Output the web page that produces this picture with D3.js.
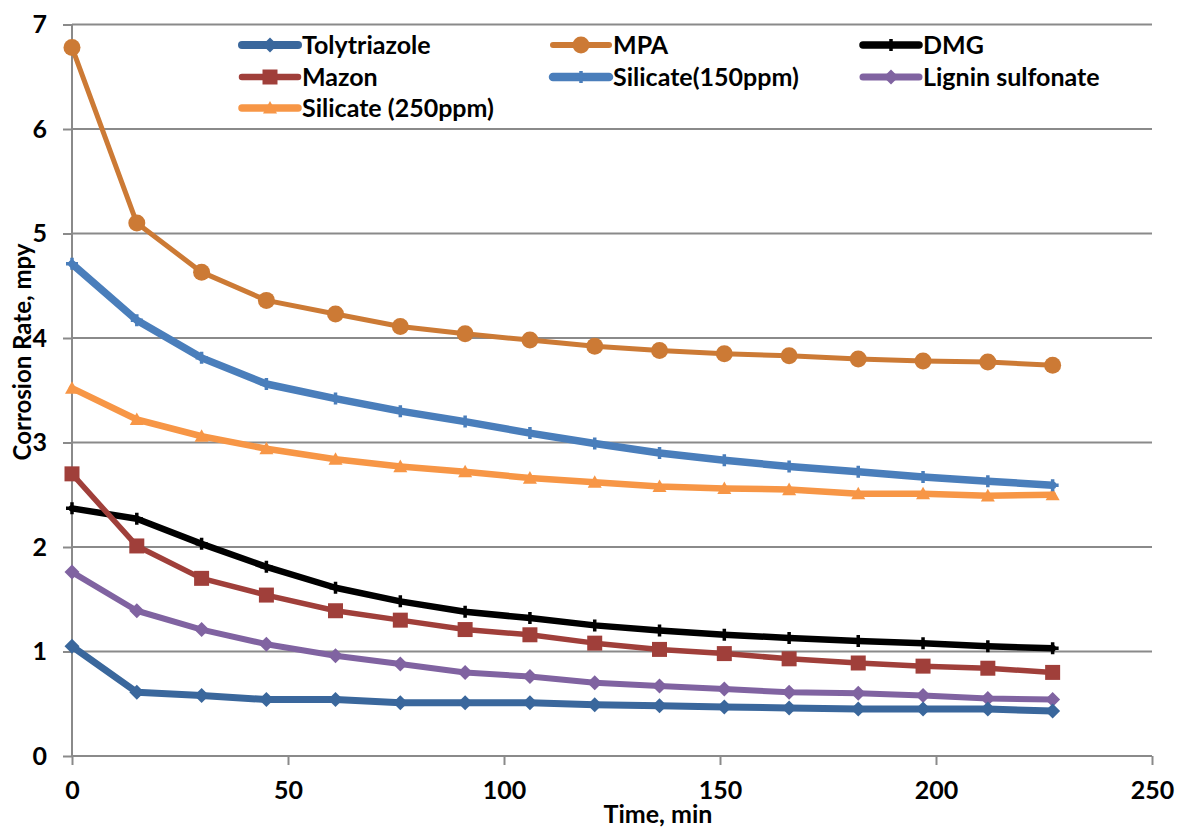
<!DOCTYPE html>
<html><head><meta charset="utf-8">
<script src="https://cdn.jsdelivr.net/npm/d3@7/dist/d3.min.js"></script>
<style>body{margin:0;background:#fff;} text{font-family:Lato, "Open Sans", sans-serif;font-weight:bold;}</style>
</head><body><svg id="c" width="1177" height="830"></svg>
<script>
const times = [0, 15, 30, 45, 61, 76, 91, 106, 121, 136, 151, 166, 182, 197, 212, 227];
const tolytriazole = [1.05, 0.61, 0.58, 0.54, 0.54, 0.51, 0.51, 0.51, 0.49, 0.48, 0.47, 0.46, 0.45, 0.45, 0.45, 0.43];
const mpa = [6.78, 5.10, 4.63, 4.36, 4.23, 4.11, 4.04, 3.98, 3.92, 3.88, 3.85, 3.83, 3.80, 3.78, 3.77, 3.74];
const dmg = [2.37, 2.27, 2.03, 1.81, 1.61, 1.48, 1.38, 1.32, 1.25, 1.20, 1.16, 1.13, 1.10, 1.08, 1.05, 1.03];
const mazon = [2.70, 2.01, 1.70, 1.54, 1.39, 1.30, 1.21, 1.16, 1.08, 1.02, 0.98, 0.93, 0.89, 0.86, 0.84, 0.80];
const silicate150 = [4.71, 4.17, 3.81, 3.56, 3.42, 3.30, 3.20, 3.09, 2.99, 2.90, 2.83, 2.77, 2.72, 2.67, 2.63, 2.59];
const lignin = [1.76, 1.39, 1.21, 1.07, 0.96, 0.88, 0.80, 0.76, 0.70, 0.67, 0.64, 0.61, 0.60, 0.58, 0.55, 0.54];
const silicate250 = [3.52, 3.22, 3.06, 2.94, 2.84, 2.77, 2.72, 2.66, 2.62, 2.58, 2.56, 2.55, 2.51, 2.51, 2.49, 2.50];
const seriesNames = ["Tolytriazole", "MPA", "DMG", "Mazon", "Silicate(150ppm)", "Lignin sulfonate", "Silicate (250ppm)"];
const xTicks = [0, 50, 100, 150, 200, 250];
const yTicks = [0, 1, 2, 3, 4, 5, 6, 7];

const series = [
  {name: seriesNames[0], values: tolytriazole, color: "#3A679C", width: 7, marker: "diamond", ms: 15},
  {name: seriesNames[1], values: mpa, color: "#CC7A35", width: 5, marker: "circle", ms: 8.5},
  {name: seriesNames[2], values: dmg, color: "#000000", width: 6.5, marker: "plus", ms: 12},
  {name: seriesNames[3], values: mazon, color: "#A03F3A", width: 5.5, marker: "square", ms: 15},
  {name: seriesNames[4], values: silicate150, color: "#4A7EBB", width: 7.5, marker: "plus", ms: 12},
  {name: seriesNames[5], values: lignin, color: "#8063A1", width: 6, marker: "diamond", ms: 15},
  {name: seriesNames[6], values: silicate250, color: "#F79646", width: 6.5, marker: "triangle", ms: 14}
];

const svg = d3.select("#c");
const L = 72, R = 1152, T = 24.5, B = 756;
const x = d3.scaleLinear().domain([0, 250]).range([L, R]);
const y = d3.scaleLinear().domain([0, 7]).range([B, T]);

svg.append("g").selectAll("line").data(yTicks.filter(d => d > 0)).join("line")
  .attr("x1", L).attr("x2", R).attr("y1", d => y(d)).attr("y2", d => y(d))
  .attr("stroke", "#8a8a8a").attr("stroke-width", 2);

const yAxis = svg.append("g").attr("transform", `translate(${L},0)`)
  .call(d3.axisLeft(y).tickValues(yTicks).tickSize(9).tickPadding(16).tickFormat(d3.format("d")));
const xAxis = svg.append("g").attr("transform", `translate(0,${B})`)
  .call(d3.axisBottom(x).tickValues(xTicks).tickSize(9).tickPadding(16).tickFormat(d3.format("d")));
[xAxis, yAxis].forEach(a => {
  a.select(".domain").attr("stroke", "#8a8a8a").attr("stroke-width", 2);
  a.selectAll(".tick line").attr("stroke", "#8a8a8a").attr("stroke-width", 2);
  a.selectAll("text").attr("fill", "#000").style("font-size", "25px").style("font-family", "Lato, sans-serif").style("font-weight", "bold");
});
yAxis.select(".domain").attr("d", `M0,${B}V${T}`);
xAxis.select(".domain").attr("d", `M${L},0H${R}`);

function markerPath(type, s) {
  const h = s / 2;
  if (type === "diamond") return `M0,${-h}L${h},0L0,${h}L${-h},0Z`;
  if (type === "square") return `M${-h},${-h}H${h}V${h}H${-h}Z`;
  if (type === "triangle") return `M0,${-h}L${h},${h*0.8}L${-h},${h*0.8}Z`;
  if (type === "plus") return `M${-h},0H${h}M0,${-h}V${h}`;
  return null;
}
function drawMarker(g, s, cx, cy) {
  if (s.marker === "circle") {
    g.append("circle").attr("cx", cx).attr("cy", cy).attr("r", s.ms).attr("fill", s.color);
  } else if (s.marker === "plus") {
    g.append("path").attr("d", markerPath("plus", s.ms)).attr("transform", `translate(${cx},${cy})`)
      .attr("stroke", s.color).attr("stroke-width", 3.5).attr("fill", "none");
  } else {
    g.append("path").attr("d", markerPath(s.marker, s.ms)).attr("transform", `translate(${cx},${cy})`)
      .attr("fill", s.color);
  }
}

const line = d3.line().x((d, i) => x(times[i])).y(d => y(d));
const drawOrder = [6, 4, 1, 2, 3, 5, 0];
drawOrder.forEach(k => {
  const s = series[k];
  const g = svg.append("g");
  g.append("path").datum(s.values).attr("d", line).attr("fill", "none")
    .attr("stroke", s.color).attr("stroke-width", s.width).attr("stroke-linejoin", "round").attr("stroke-linecap", "round");
  s.values.forEach((v, i) => drawMarker(g, s, x(times[i]), y(v)));
});

const legPos = [[242, 45], [553, 45], [863, 45], [242, 77], [553, 77], [863, 77], [242, 108]];
series.forEach((s, i) => {
  const [lx, ly] = legPos[i];
  const g = svg.append("g");
  g.append("line").attr("x1", lx).attr("x2", lx + 56).attr("y1", ly).attr("y2", ly)
    .attr("stroke", s.color).attr("stroke-width", s.width + 1).attr("stroke-linecap", "round");
  drawMarker(g, s, lx + 28, ly);
  g.append("text").attr("x", lx + 60).attr("y", ly).attr("dy", "0.36em")
    .style("font-size", "25px").attr("fill", "#000").text(s.name);
});

svg.append("text").attr("x", 658).attr("y", 823).attr("text-anchor", "middle")
  .style("font-size", "25px").text("Time, min");
svg.append("text").attr("transform", "translate(31,352) rotate(-90)").attr("text-anchor", "middle")
  .style("font-size", "24px").text("Corrosion Rate, mpy");
</script></body></html>
